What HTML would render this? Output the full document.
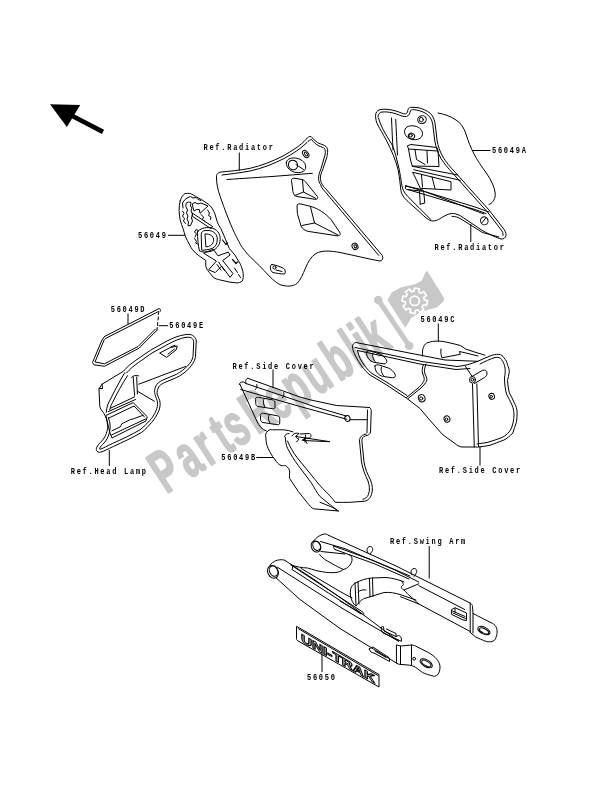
<!DOCTYPE html>
<html><head><meta charset="utf-8">
<style>
html,body{margin:0;padding:0;background:#fff;}
body{width:600px;height:785px;overflow:hidden;position:relative;}
svg{position:absolute;left:0;top:0;will-change:transform;}
.t{font-family:"Liberation Mono",monospace;font-weight:bold;font-size:7.0px;letter-spacing:1.73px;fill:#000;}
.l{fill:none;stroke:#000;stroke-width:1;stroke-linejoin:round;stroke-linecap:round;}
.w{fill:#fff;stroke:#000;stroke-width:0.9;stroke-linejoin:round;}
.wm{fill:#c8c8c8;}
</style></head>
<body>
<svg width="600" height="785" viewBox="0 0 600 785">
<g>
<text transform="translate(168.3,492.9) rotate(-33) scale(1,1.71)" font-family="Liberation Sans" font-weight="bold" font-size="35.3" fill="#c8c8c8" stroke="#c8c8c8" stroke-width="1.1" stroke-linejoin="round"><tspan x="-2.4">P</tspan><tspan x="26.0">a</tspan><tspan x="48.7">r</tspan><tspan x="70.1">t</tspan><tspan x="82.8">s</tspan><tspan x="106.4">R</tspan><tspan x="131.6">e</tspan><tspan x="153.7">p</tspan><tspan x="177.8">u</tspan><tspan x="203.7">b</tspan><tspan x="227.5">l</tspan><tspan x="238.5">i</tspan><tspan x="248.5">k</tspan></text>
<line x1="378.3" y1="300" x2="409.2" y2="345.8" stroke="#c8c8c8" stroke-width="5" stroke-linecap="round"/>
<circle cx="378.3" cy="300" r="4.3" fill="#c8c8c8"/>
<circle cx="409.2" cy="345.8" r="4.3" fill="#c8c8c8"/>
<path d="M387.5,300 L391.7,292.5 L400.8,287.5 L415,284.2 L421.7,280.8 L425.8,271.7 L427.5,271.3 L444.2,298.3 L443.3,301.7 L436.7,307.5 L427.5,310 L416.7,314.2 L410.8,318.3 L406.7,325.8 L405,327.5 Z" fill="#c8c8c8"/>
<path d="M424.3,300.0 L427.5,300.6 L426.6,305.4 L423.4,304.9 L422.1,307.0 L423.9,309.7 L419.9,312.5 L418.0,309.8 L415.5,310.4 L414.9,313.6 L410.1,312.7 L410.6,309.5 L408.5,308.2 L405.8,310.0 L403.0,306.0 L405.7,304.1 L405.1,301.6 L401.9,301.0 L402.8,296.2 L406.0,296.7 L407.3,294.6 L405.5,291.9 L409.5,289.1 L411.4,291.8 L413.9,291.2 L414.5,288.0 L419.3,288.9 L418.8,292.1 L420.9,293.4 L423.6,291.6 L426.4,295.6 L423.7,297.5Z" fill="none" stroke="#fff" stroke-width="1.7" stroke-linejoin="round"/>
<circle cx="414.7" cy="300.8" r="4.7" fill="none" stroke="#fff" stroke-width="1.7"/>
</g>
<polygon points="50,104.2 80.2,104.9 66.9,126.9" fill="#000"/>
<line x1="70" y1="114.8" x2="103" y2="131.9" stroke="#000" stroke-width="4.6"/>

<g class="l">
<!-- outer outline -->
<path d="M216.5,177 C216,174.5 218,172.5 221,172 C230,171.2 239,170.5 250,168.3 C262,165.5 272,161.5 283,156 C292,151 301,145 306,139.5 C308,137 309.5,136 311,136.5 C313,138.5 315,141 317.7,142.7 C320,144 322.5,144.5 324.3,145.3 C326.5,146.5 327.8,148.5 327.7,151 C327.5,153.5 327.2,155 327,156.7 L323,168.7 C321.5,172.5 320.3,175.5 320.3,178 C320.5,180.5 321,182 321.7,183.3 C322.5,185.5 324,187 325.7,188.7 L382.3,255.5 C383.5,258 382.5,261 380,261 C368,259 355,255.5 340,252.5 C331,250.8 322,250 316,253.5 C311,256.5 308,262 305.5,268 C303,274 300.5,280 297,283.5 C293,286.5 287,286.8 281,285 C275,282.5 270,277 264,270.5 C257.5,263.5 251.5,258.5 247.5,254 C243.5,249.5 240.5,245 238.8,241.4 C236.8,237.5 235.5,235 234.3,232.5 C231.5,226.5 229.5,221.5 227.3,216 C225,210 222.5,203.5 220.3,196.8 C218,190 216.3,184 216.5,177 Z"/>
<!-- inner double line along right edge -->
<path d="M311.5,139.5 C313.5,142 316,144.5 319,146 C321.5,147 323.5,147.5 324.5,148.5 C325.5,150 325.5,152 325,155 L321,168.7 C319.5,172.5 318.5,175.5 318.5,178.3 C318.7,181 319.5,183 320.5,184.5 C321,186.5 322,188 323.3,189.5 L378.8,255.5"/>
<!-- inner top parallel line -->
<path d="M222,175 C230,174 239,173 250,171 C262,168.3 272,164.5 283.5,158.8 C292.5,154 301,148.5 307,142.5 C308.5,141 309.5,140 310.5,139.8"/>
<!-- horizontal line -->
<path d="M227,179.5 C245,178.3 260,177.3 272,176.5 C285,175.5 300,174.3 312.3,173.3"/>
<!-- small hole -->
<ellipse cx="305.7" cy="154" rx="2.6" ry="4.1" transform="rotate(-35 305.7 154)"/>
<ellipse cx="305.9" cy="154.2" rx="1.1" ry="2.3" transform="rotate(-35 305.7 154)"/>
<!-- large oval with circle -->
<path d="M286.3,163 C286.3,159.5 290,157.6 295,158 C300.5,158.5 305.7,162 305.7,167 C305.7,171 302,172.9 297,172.6 C291,172.2 286.3,168 286.3,163 Z"/>
<ellipse cx="293" cy="165" rx="4.5" ry="4.9" transform="rotate(-25 293 165)"/>
<path d="M296,164.5 L303.5,169.5"/>
<!-- vent 1 -->
<path d="M291.5,180 C291.5,178.5 293,178 295,178.3 L302,179.5 C304,180 305,181 306.5,183 L317,196 C318.5,198 317.5,199.5 315,199.3 L297,196.5 C294.5,196 293.5,194.5 293,192 Z"/>
<path d="M302.5,180 L303.5,192 L295,195.5"/>
<path d="M303.5,192 L316,198.5"/>
<!-- vent 2 -->
<path d="M297,205.5 C297,204 298.5,203.5 301,204 L311,206.5 C318,208.5 325,213 331,219.5 L339.5,232 C341,234.5 340,236 337,235.8 L309,231.5 C305,230.8 302.5,229 301,226 L297.5,214 Z"/>
<path d="M310.5,207 L314.5,223 L302,225.5"/>
<path d="M314.5,223 L338,235"/>
<!-- bottom hole -->
<ellipse cx="355" cy="246.3" rx="2.8" ry="3.3" transform="rotate(-30 355 246.3)"/>
<ellipse cx="355.3" cy="246.5" rx="1.2" ry="1.6" transform="rotate(-30 355 246.3)"/>
<!-- slot -->
<path d="M272,264.5 C276,265.2 280,266.5 283.5,268.3 C285.5,269.5 285.8,272.5 284.5,274 C281,274 276,273.2 273,272.5 C270.5,271.5 270,268 270.5,266 C270.8,265 271.3,264.5 272,264.5 Z"/>
<circle cx="274.5" cy="267.5" r="1.6"/>
<path d="M276,270 L282,271.5"/>
</g>

<g class="l">
<!-- outer outline -->
<path d="M180.2,200.8 C181.5,197 183,195 184.6,193.8 C186.5,193.2 188.5,193.3 190.5,193.5 C192.5,194.5 194,195.5 195.6,196.4 L202.2,200.1 L208.8,204.5 C210.5,206 211.5,207.5 212.5,208.9 C213.5,210.5 214.2,212 214.7,213.3 L217.6,222.8 C218.5,225 219.5,226.5 220.8,228.5 C223,233 225,238 227.3,243.7 L229.2,248.3 L234.8,254.9 L240.4,264.2 C241.8,267.5 242.8,270.5 243.2,273.6 C243.5,276.5 243.2,279 242.3,281 C240.5,282.5 238.5,283 236.7,282.9 L229.2,282 L220.8,280.1 C217.5,279.5 215,278.5 213.3,277.3 C210.5,274 208,271 206.3,268 C205.5,265.5 205.7,263 205.9,260.5 C203,258.5 199,256 195.6,253 C193,250.5 191,248 190,245.5 C188,242 186.5,239 185.3,236 C184.5,233.5 183.8,231 183.1,228.7 C182,226 181,223 180.2,219.9 C179.5,216.5 179.2,213.5 179.1,210.3 C179.1,207 179.5,203.5 180.2,200.8 Z"/>
<!-- inner jagged line near top-left -->
<path d="M183,208 L182.5,203 L185,199.5 L188,197.5 L190.5,196.5 L193,198 L196,197.5 L198,199.5 L201,200.5"/>
<path d="M182.5,211 L184,213.5 L182.5,216 L184.5,218.5 L183.5,221 L185.5,223.5"/>
<!-- K stem -->
<path d="M186.5,203 L188.5,202 L191,202.5 L190.5,206 L192,208 L191,211 L192.5,214 L191.5,218 L192.5,221 L190.5,225.5 L188,225.8 L188.5,222 L187,219 L188,216 L186.5,213 L187.5,210 L186,207 Z"/>
<!-- K upper arm -->
<path d="M192.7,203.7 L195,202.5 L198,204 L201,203 L208,206 L200,213.3 L199.3,209.6 L196.5,209.5 L194,211 L193,207.5 Z"/>
<!-- K lower arm -->
<path d="M192.7,213.3 L212.5,226.5 L211,228.7 L192.7,216.5 Z"/>
<path d="M201,214.5 L203.5,217 L202.5,219.5 L205,221.5"/>
<!-- right side small marks -->
<path d="M207.5,210 L209.5,213 L208.5,215.5 L211,217 L210.5,219.5"/>
<path d="M222.5,240 L226,244.5 L227.5,243" stroke-width="1.2"/>
<path d="M232.5,259.5 L236,263.5 L237.5,262" stroke-width="1.2"/>
<path d="M234.5,268 L237.5,272.5 M238.5,274.5 L240.5,277.5"/>
<path d="M195,237 L196.5,234 L194.5,232 L196,229.5 L198.5,230.5"/>
<path d="M194.5,238.5 L196.5,241.5 L195.5,243 L197.5,244"/>
<!-- D -->
<path d="M197.5,232 C199.5,228.5 205,227 211,227.8 C217,229 220.3,233.5 220.2,239.5 C220,245.5 216,250 210,251.5 C206,252.3 202,252 199.5,251 C198,245 197.5,238 197.5,232 Z"/>
<path d="M201.2,234 C201.2,232 203,230.8 205,230.5 L209,230.5 C214,231 217.3,234.5 217.3,239 C217.3,244 215.3,247.3 212,248.5 C209,249.5 205,250.2 202.1,250.2 Z"/>
<path d="M205,234.3 L205.9,246.9 C209.5,246.8 212.5,245 213.5,241.5 C214.3,238 212,235 209,234.3 Z"/>
<!-- X -->
<path d="M204,253 L213.3,249.3 L218,255.8 L228.3,252.1 L230.1,255 L222.7,260.5 L233,273.6 L230.1,277.3 L221.7,266.1 L215.2,272.6 L208.7,269.8 L216.1,261.4 Z"/>
<path d="M218.5,262 L224.5,270.5 M217,264.5 L221,270"/>
</g>

<g class="l">
<!-- decal 56049A behind -->
<path d="M438,113 C444,114 450,116 456,120 C461,123 464,128 466,134 C468,141 471,148 474,154 C477,160 482,167 487,174 C491,180 494,186 495,192 C496,197 494,201 491,203.5 L489,204.5"/>
<!-- outer outline -->
<path d="M375.5,116 C375.5,112.5 377,110.5 380,109.6 C385,108.6 391,109.6 396,111 C400,112.3 403,114 405.5,114 C407.5,113.5 407.8,111 408,109.5 C408.5,108 410,107.3 412,107.3 L417,107.5 C422,108.3 427,110.5 430.5,113.5 C433.5,116.5 435,121 435.5,127 L437,140 C438,146 440,152 443,157 C446,162 450,167 455,172 L471,190 L489,210 L503,228 C505,230.5 506.3,233 506,235.5 C505.5,238 503.5,239.3 501,239 C497,238 490,234.5 483,231 L460.5,215.8 C457,214 454,213.3 451.3,213.5 C447,214 443,217 438.5,219.5 C436,220.8 433.5,221.2 431.2,220.8 C428.5,220 424,216.5 420.2,212.4 L410.8,204.2 C408,201.5 405.5,199.5 403.8,197.2 C402,194.5 401.2,192.5 400.9,190.2 C400.5,187 400.2,184 399.8,180.8 C399.3,177 398.8,173 398,169.2 C396.8,164.5 395,159.5 393.3,155.2 C391,150 388.8,145 386.3,140 C384.5,137 383,134.5 381.5,131.5 C379.5,128 377,124.5 376.2,121 Z"/>
<!-- inner offset line -->
<path d="M378,117 C378,114 379.5,112.5 382,112 C387,111.5 392,112.5 396.5,114 C400.5,115.5 403.5,117 406.5,116.5 C409.5,115.5 410,112.5 410.5,110.5 C411.5,109.5 413,109.5 416.5,110 C421,111 425.5,112.5 428.5,115.5 C431.5,118.5 432.8,122.5 433.2,128 L434.8,141 C436,147.5 438,153 441,158.5 C444,163.5 448,168 453,173.5 L469,191.5 L487,211.5 L500.5,229 C502.5,231.5 503.5,233.5 503,235.5"/>
<path d="M378.5,118 C380,123.5 382.5,128.5 385,133 C387.5,137.5 390,141 392.2,145 C393.8,148.5 394.8,152 395.7,155.2 L399.2,169.2 C400.2,174 400.8,179 401.5,183.2 C402,186 402.5,188.5 403.3,190.2 C404.5,192.5 405.8,194.5 407.3,196 L419,207.7 L430.7,219.4"/>
<!-- vertical inner lines -->
<path d="M395.7,119.5 C396.3,130 396.8,142 397.5,155"/>
<path d="M391.5,118 C392,130 392.5,140 393,150"/>
<!-- small hole -->
<ellipse cx="422" cy="119.6" rx="4.3" ry="3.9" transform="rotate(-20 422 119.6)"/>
<ellipse cx="421.3" cy="119.6" rx="2" ry="2.3"/>
<!-- oval -->
<path d="M404.5,131.5 C404.5,127.5 408,125.5 413,125.8 C418.5,126.3 422.5,129.5 422.5,133.5 C422.5,137.5 419,140 414,139.7 C408.5,139.3 404.5,136 404.5,131.5 Z"/>
<ellipse cx="411.5" cy="136" rx="3.2" ry="2.8" transform="rotate(30 411.5 136)"/>
<ellipse cx="410.8" cy="135.5" rx="1.6" ry="1.5"/>
<!-- vent 1 -->
<path d="M407.7,145.7 L411,144.5 L437,147.5 L438,150.5 L439,166.5 L412.3,166 L410.5,160 L408.5,149 Z"/>
<path d="M408.5,149 L437.5,151"/>
<path d="M415,149.7 L416.5,159.5 L425,164.5"/>
<path d="M427,151 L427.5,163"/>
<!-- diagonal double lines -->
<path d="M412.3,166.3 L457.7,175"/>
<path d="M413.7,169.7 L460.3,180.3"/>
<!-- vent 2 -->
<path d="M413,172.3 L451,181.7 L451,190 L420.3,188.3 L416.5,180 Z"/>
<path d="M421.5,175 L422.5,187"/>
<path d="M432,177 L435,188.5"/>
<!-- long diagonal lines -->
<path d="M405.7,185.7 L475,207 L489,212"/>
<path d="M408.3,189.7 L475,209.5 L486,213.5"/>
<path d="M426,192 L484,214"/>
<!-- tab -->
<path d="M405.5,186 C405,187.5 405.5,189 406.5,189.5 L423.7,191.3 L424.8,203 L420.2,204.2"/>
<path d="M405.5,186 L421.5,189.5 C423,190 423.7,190.5 423.7,191.3"/>
<path d="M419.5,191.5 L420.2,204.2"/>
<path d="M452,216.3 C455.5,216.3 458.5,217.5 461,219 L482.5,232.5 L499,237"/>
<!-- small hole bottom -->
<ellipse cx="484.3" cy="220.8" rx="3.7" ry="4.1" transform="rotate(-20 484.3 220.8)"/>
<path d="M482.3,222.5 L485.5,218.3"/>
</g>

<g class="l" stroke-width="0.8">
<!-- 56049D -->
<path d="M104.5,336.5 L159,308.6 C160.3,308.5 160.8,309.8 160.3,311.3"/>
<path d="M105.5,338.5 L158.5,311.5"/>
<path d="M104.5,336.5 L102,340 L92.5,362.5 L94,364.8 L104.5,366.3 L139,348.2 L157.2,330"/>
<path d="M104.3,339.5 L95,362 L104.5,363.8 L138,346.5 L155.5,329"/>
<!-- 56049E -->
<path d="M158.8,312 L158.3,314.5 M158.4,317 L158,320 M157.8,322.5 L157.5,325.5 M157.3,327.5 L157,330" stroke-width="1"/>
</g>

<g class="l">
<!-- outer silhouette -->
<path d="M99.2,388.4 L102,384.2 L123.2,371.4 C127,367 131,363.5 135.8,360.3 L150.5,350.2 L167,341 C173,338 179,335.5 185.3,334.6 C189,334.2 191.5,334.5 192.7,335.5 C195,337 196.3,339 196.3,341 L195.4,357.5 C194.5,361.5 192,365 189,368.5 C185,372.5 181,375.5 176.2,377.7 L164.3,382.7 C161.5,384 159.5,385.5 158.7,387 C157.5,389.5 156.8,392 157.2,394.1 C158,397 159.8,399.5 160.1,402.6 C160.3,405.5 159.8,408.5 158.7,411.1 C156.8,415.5 154.5,419 151.6,422.4 C148.5,426 145.5,429.5 141.7,432.3 C133,437.5 123,442 113.3,446.5 C108,449 103.5,451.5 100.6,452.2 C98.5,452.5 97,451.8 96.5,450.5 C96,449 96.5,447.5 97.5,446 C99,443.5 100.8,442 102,440.8 C104,438.5 105.5,436 106.2,433.7 C107,431 107.8,429 107.7,426.7 C107.5,423.5 107,420.5 106.2,418.2 C105.3,416 104.3,414 103.4,412.5 C101.5,410.5 100.3,408.5 99.9,406.8 Z"/>
<!-- inner frame line -->
<path d="M126.5,373 C130,369 134,365.5 138.5,362.5 L152,353 L168.5,344 C174,341 180,338.3 186,337.3 C189,337 191.5,337.5 192.5,338.8 C193.5,340 193.8,341.5 193.7,343 L193,356.5 C192.3,360 190.5,363 187.5,366 C184,369.5 180.5,372 176.5,374.3 L163,380 C159.5,381.5 157,383.5 155.8,386 C154.5,389 154.3,392 155,394.5 C155.8,397.5 157.3,400 157.5,402.8 C157.6,405.5 157.2,408 156.2,410.3 C154.5,414.5 152.3,417.8 149.5,420.8 C146.5,424.2 143.5,427.2 140,429.8 C131.5,434.8 121.8,439.3 112.2,443.6 C107.5,445.8 103.5,448 101,449 C99.8,449.3 99.3,449 99.5,448.5 C100.5,446.5 102.5,444.5 104,443 C106.3,440.5 108,437.5 108.8,434.5 C109.8,431 110.3,428.5 110.2,426 C110,423 109.3,420 108.3,417.5"/>
<!-- side face top -->
<path d="M102,384.2 L102.5,388.5 M99.2,388.4 L102.5,388.5"/>
<!-- frame pillar (left) -->
<path d="M124.7,372.8 C119,382 113,394 108,404 C107,407 106.3,410 106.2,412.5"/>
<path d="M127.5,375.7 C122,384 116.5,394.5 112.5,402.5 C111,405 110.2,407.5 109.8,409.7"/>
<!-- pillar 2 -->
<path d="M133.2,377 L134.6,395.5 M136.7,377 L137.4,394"/>
<path d="M131.5,377.5 C133,375.5 136,375 138.5,375.8"/>
<!-- window bottom double lines -->
<path d="M110.5,408.2 L134.6,396.9"/>
<path d="M108.5,411.5 L135.5,399.5"/>
<!-- window diagonal lines -->
<path d="M138.8,384.2 L185.5,366.5"/>
<path d="M137.4,391.2 L154.4,401.2"/>
<!-- small window top right -->
<path d="M160,353.3 L166.7,357.3 L176,350 L177.3,346 L170.5,347.5 Z"/>
<path d="M168,354 L174.5,349"/>
<path d="M171,346.8 L175,345.3"/>
<!-- lower box -->
<path d="M106.2,415.3 L133.2,402.6 L147.3,416.7 L145.9,421 L111.9,438 L109.8,432.3 Z"/>
<path d="M109,418 L134,406 L144.5,417"/>
<path d="M111.9,430.9 L120.4,426.7 L121.8,423.8 L130.3,419.6 L133.2,418.9 L143.1,415.3"/>
<path d="M111.5,435 L145.5,419"/>
</g>

<g class="l">
<!-- top rail -->
<path d="M247.7,378.3 L300,397 L310,399.8 L336.5,405.5 L369.5,407.5"/>
<path d="M246.2,383.6 L300,401.7 L314.8,406.8 L346.2,416"/>
<path d="M247.7,378.3 C245.5,379 245,382 246.2,383.6"/>
<path d="M239.3,384.5 C239.5,382.5 241.5,381.6 243.5,382 L246.2,383.6"/>
<path d="M240.8,389.5 L300,406.5 L347,419.3"/>
<path d="M256.8,384.5 C257.5,386.5 256.8,388.5 255.3,389.5"/>
<path d="M283.8,392.5 C284.5,394.5 283.8,396.5 282.3,398"/>
<!-- right edge -->
<path d="M369.5,407.5 C371,408.5 371.5,410 371.2,412 L370.5,432 C370,434.5 368,435.5 365.5,435.8 C362.5,436.5 361.5,439 362,442 L364,462 C365,469 368,475 370.5,480 C372.5,485 373,490 371.5,494.5 C370,499 367,501.3 363.5,501.3"/>
<path d="M367.5,410 L367,432.5 M366.3,434 C362,434.5 359.5,437 359.5,441 L361.5,462 C362.5,469 365.5,475.5 368,481 C369.5,485.5 370,490 368.5,494.5 C367,497.5 365,499 363,499.3"/>
<!-- left edge -->
<path d="M239.8,384 L243,391 L256.8,421 C259,426 262,429.5 266.4,431"/>
<!-- vents -->
<path d="M255.5,399 C255.5,397.5 257,397 258.5,397.3 L272.5,399.8 C274.5,400.3 275,401.5 275,403 L275,407 C275,408.5 274,409 272.5,408.7 L258,406.5 C256.5,406.2 255.8,405 255.8,403.5 Z"/>
<path d="M264,398.8 C263,401 263,404 265,407.3"/>
<path d="M260.4,415 C260.4,413.5 261.8,413 263.5,413.3 L277.5,415.8 C279.3,416.3 279.8,417.5 279.8,419 L279.7,423 C279.7,424.5 278.8,425 277.2,424.7 L263,422.5 C261.5,422.2 260.6,421 260.6,419.5 Z"/>
<path d="M269,415 C268,417 268,420 270,423.3"/>
<!-- hole -->
<ellipse cx="347.4" cy="418.5" rx="2.6" ry="3" transform="rotate(-20 347.4 418.5)"/>
<path d="M350,419.7 L367.5,419.7"/>
<!-- decal 56049B -->
<path d="M268,430.8 C269,429.5 271,429.5 272.3,429.8 L283.2,429.8 C287,430 290,431 292.9,431.9"/>
<path d="M268,430.8 C265.5,433 265.3,435 265.8,437.3 C266,441 266.5,445 268,448.2 C270,452.5 272,456 274.5,459 C276.5,462 278.5,464.5 281,465.5 C283,466 284.3,465.5 285.3,465.5 C288,467 289.7,469.5 289.7,472 C289.5,474.5 289.2,476.5 289.7,478.5 L298.3,491.5 L307,502.3 C309.5,505.5 311.5,508 313.5,508.8 L338.4,511 C335,509 333,507.5 330.8,506.7 C327,505 323,503.5 320,502.3"/>
<path d="M285.3,437.3 C285.5,441 286,445 287.5,448.2 C291,455 294.5,460.5 298.3,465.5 L311.3,482.8 C314.5,488 317,493 320,496.5 C325,500.5 330,505 338.4,511"/>
<path d="M287.5,441 C290,447 293,452 297,457.5 L315,479.5 C320,486 325,491 330,495.8 C332,498.5 334,500.5 335.2,502.3 C340,502.5 345,502.3 350.3,502.3 L363.3,501.3"/>
<path d="M284.5,436.5 C285,434.5 287,433.3 289,433.5"/>
<!-- SR logo -->
<path d="M292,436 C293,433.5 296,432.5 299,433.5 L296,436 C295.5,437.5 297,438.5 299,439 L296.5,442"/>
<path d="M300,434 L309.5,433.5 C311.5,434 311.5,437 309.5,438 L304,438.5 L307,443.5"/>
<path d="M305.5,435 L305,442 M302,440 C303.5,439 305,439.5 306,441"/>
<path d="M296,436.5 L329.8,441.7 L303,440.5"/>
</g>

<g class="l">
<!-- decal 56049C -->
<path d="M422.6,356 C422.3,352 422.5,349 423.5,347.2 C424.5,344.5 426,343 428,342.6 C431,341.5 434,341.2 437.5,341.1 C442,341 446,342 449.8,342.9 C453.5,343.8 457,344.5 460.3,345.5 C462.5,346.5 464,348 465.5,349 L476,352.5 L484.8,355.1"/>
<path d="M441,349 C440.5,352 441,355 441.9,357.8 L460.3,354.3 L459.5,351.5 L466,353 L478,356"/>
<path d="M426,364 C424.5,368 424,371 425,374 C426.5,377 427.5,379 426.5,381.5 C425,384 423,386 421,388 L408.3,398.3"/>
<path d="M423.5,364.5 C422,368 421.8,371 422.8,374 C424,377 424.8,379 423.8,381.3 C422.5,383.5 420.8,385.5 419,387.3 L406.5,397.5"/>
<!-- top edge band -->
<path d="M352.5,346.7 C352.5,344.5 353.5,343 355.8,342.5 L445,360 L477.8,361.3 C482,359.5 486,357.5 490,356 C493,354.8 496,354.3 498.8,354.3 C501,354.5 503,356 504,357.8 C506,360 507,362 507.5,364.8 C508.5,367 509.2,369 509.3,371.8 C509,375 508,378 507.5,380.5 C507.7,385 508.5,389 509.3,392.8 C511,396 513,399.5 514.5,403.3 C516,406 517,409 517.1,412 C517.2,416 516.8,419.5 516.3,422.5 C515,426 514,429.5 512.8,433 C510,436 507,438.5 504,440 C499,442 494.5,443.5 490,445.3 C485,446.2 481,446.8 477.8,447 L462,447 C459,446.5 457,445.3 455,443.5 L442.8,434.8 L428.8,419 L420,408.5 L406.7,398.3 L386.7,385 L370,375 C367,372.5 365,370.5 363.3,368.3 C360,364 357,359 355,355 C353.5,352 352.5,349 352.5,346.7 Z"/>
<path d="M355,347.5 L422,361.5 L456.8,366.5"/>
<path d="M357.5,350.5 L420,364 L456,369.5 L470,368.5"/>
<path d="M357.5,350.5 C358.5,356 361,361 364.5,365.5 C367,369 369.5,371.5 372,373.5 L388,383 L407,395.5"/>
<path d="M456.8,366.5 C464,366 471,364 477.8,361.3"/>
<!-- inner right double line -->
<path d="M480,364 C485,361.5 490,359 495,357.5 C498,357 500.5,357.5 501.5,359.5 C503.5,362 504.5,365 505,368 C505.5,371 505,374.5 504.5,378 C504.5,385 505.5,390 506.5,394 C508.5,398 510.5,401.5 512,405 C513.5,408.5 514,412 514,415 C513.8,420 513,424 511.5,428 C509.5,432.5 506,435.5 502,437.5 C497,439.5 492,441 487,442.5 L477,444"/>
<!-- vertical lines -->
<path d="M472.5,384 L474.3,447"/>
<path d="M476.9,384 L478.5,446.5"/>
<path d="M465.5,366.5 L472.5,377"/>
<!-- tube -->
<path d="M472,376.5 L482.5,370.3 C485,369.5 487,370.5 487,373 C487,375 486,376.5 484.5,377.5 L474.5,383.5"/>
<ellipse cx="472.5" cy="379.8" rx="3" ry="3.3"/>
<circle cx="472.5" cy="379.8" r="1.4"/>
<!-- holes -->
<ellipse cx="421.7" cy="398.3" rx="3.3" ry="3.7" transform="rotate(-20 421.7 398.3)"/>
<circle cx="421.2" cy="398.5" r="1.6"/>
<ellipse cx="447" cy="419" rx="2.9" ry="3.2" transform="rotate(-20 447 419)"/>
<circle cx="446.5" cy="419.3" r="1.3"/>
<ellipse cx="491.7" cy="396.3" rx="2.8" ry="3" transform="rotate(-20 491.7 396.3)"/>
<circle cx="491.3" cy="396.5" r="1.2"/>
<!-- vents -->
<path d="M366.5,352 C367,350.5 369,350.5 371,351.2 L380,354 C383,355.5 385,357.5 386.5,360 C387.5,362 386.5,364 384,363.8 L375,362.5 C372,362 370,360.5 368.5,358.5 C367,356.5 366.3,354 366.5,352 Z"/>
<path d="M373,353 C372,356 373,359.5 375.5,362"/>
<path d="M375,366 C375.5,364.5 377.5,364.5 379.5,365.2 L388.5,368 C391.5,369.5 393.5,371.5 395,374 C396,376 395,378 392.5,377.8 L383.5,376.5 C380.5,376 378.5,374.5 377,372.5 C375.5,370.5 374.8,368 375,366 Z"/>
<path d="M381.5,367 C380.5,370 381.5,373.5 384,376"/>
</g>

<g class="l">
<!-- FAR ARM -->
<ellipse cx="316" cy="546.5" rx="4.6" ry="5.8" transform="rotate(-25 316 546.5)"/>
<ellipse cx="316.8" cy="546.2" rx="3.6" ry="4.7" transform="rotate(-25 316 546.5)"/>
<path d="M313.5,541 C316,537.5 320,535 324,534 C326,533.8 327.5,534.3 328.5,535.3"/>
<path d="M328.5,535.3 L395,565.5 L470.2,603.1"/>
<path d="M320.5,541.5 L345,548.7 L395,570 L418.8,582"/>
<path d="M333.5,546 L372,560 L410,576 M335,549.5 L375,564 L409,579"/>
<path d="M334,545.5 C333,546.5 333.5,548.5 335,549.5"/>
<path d="M321,551.5 L345,554"/>
<!-- cross brace curve 1 -->
<path d="M319.5,554.5 C322,558 327,561 331,563 C336,566 340,568 343.5,569.5 C347.5,568.5 351,565 352,560.5 C352.5,557 351,555.5 349.5,555"/>
<path d="M291,565 C297,567 302,567.8 307.5,568 C313,569.5 318,571.3 322.5,571.8 C328,572.8 332,572.8 336,572.5 C340,571.8 342,570.8 343.5,569.5"/>
<!-- hooks -->
<path d="M368,553 C366,550 367,547 370,546.5 C372.5,546.5 373.5,549 372,551.5 L370,554"/>
<path d="M412,575 C410,572 411,569 414,568.5 C416.5,568.5 417.5,571 416,573.5 L414,576.5"/>
<!-- cross brace U -->
<path d="M350.3,594 C350,588 352,584.5 355.7,583 C361,580 366,578.5 371.7,578 L386,577.5 C392,578 397,579.5 401,580.7 L404,582"/>
<path d="M350.3,594 C351,600 353,604 356,606 C360,601 363,598.5 366,598 L384,592.5 C390,592 395,593 400,594.5 L416,600"/>
<path d="M355,582.5 L356,605 M358,581.5 L359,604"/>
<path d="M369.5,578.5 L370,597 M372.5,578 L373,596.5"/>
<path d="M358,592 C360,590 363,589.5 366,590"/>
<path d="M401,580.7 C403,583 404.5,585 402.3,585.7 C400.5,587 401.5,589 404,590 L418.8,583.8"/>
<path d="M404,590 C406,592 408,594.5 410,596 L418.8,604"/>
<!-- far arm rear -->
<path d="M418.8,585.7 L464.7,609.5"/>
<path d="M400.5,596.7 L418.8,604 L470.2,631.5"/>
<path d="M470.2,603.1 L470.2,632.4"/>
<path d="M470.2,603.1 C471.5,604 472.5,605 472.5,606.5 L473,613.5 C476,615 479,616.5 483,618.7 L492.2,623.2 C494.5,624.5 496,626 496.7,628.5 C497.3,631 497.3,633.5 496.7,635.2 C496,638 495,640 494,640.7 C491.5,642 489,642 486.7,641.6 C482,640 479,638.5 475.7,637 L470.2,632.4"/>
<path d="M473,613.5 L473,633"/>
<ellipse cx="483.9" cy="630.6" rx="6.6" ry="3.4" transform="rotate(27 483.9 630.6)"/>
<ellipse cx="484.2" cy="630.8" rx="5" ry="2.2" transform="rotate(27 483.9 630.6)"/>
<!-- vent box far -->
<path d="M451.8,609.5 L455,607.7 L466.5,613 L466.5,620.5 L463,620 L451.8,614.5 Z"/>
<path d="M452.5,611 L465,616.5 M453,613 L465.5,618.5 M455,608.5 L455,612"/>
<!-- NEAR ARM -->
<ellipse cx="273" cy="571.8" rx="5.2" ry="6.6" transform="rotate(-25 273 571.8)"/>
<ellipse cx="273.8" cy="571.4" rx="4" ry="5.3" transform="rotate(-25 273 571.8)"/>
<path d="M270,565 C273,561.5 276.5,560 279.8,559.8 C282,559.5 284,559.8 285,560.5"/>
<path d="M285,560.5 L315,580 L345,601 L398.7,641.3"/>
<path d="M277.5,567.3 L345,610 L362,620"/>
<path d="M291,565 L340,597.3 L362,611.5 C363.5,612.5 364,614 363.8,614.5"/>
<path d="M293,566 L292,569.5 L361,614"/>
<path d="M340,601 L362,613.8"/>
<path d="M276,577.8 L300,599.5 L340,628.5 L396.8,663.3"/>
<path d="M362,620 L398.7,641.3"/>
<path d="M301,568.4 L340,591.5 L352,598"/>
<!-- near end plate -->
<path d="M396.8,645 L400.5,646 L411.5,645 C413.5,645 415.5,645.8 417,646.8 L428,652.3 C432,654.5 435,657 437.2,659.7 C439,662 440,664.5 440,667 C440,670 439.3,672.5 438,674.3 C436.5,675.8 435,676.3 433.5,676.2 C429,675 425.5,674 422.5,672.5 L415.2,667 C413,666 411.5,665.5 409.7,665.2 L398.7,664.2 L396.8,663.3 Z"/>
<path d="M400.5,646 L400.5,664.5"/>
<ellipse cx="426.2" cy="663.3" rx="6.8" ry="3.4" transform="rotate(30 426.2 663.3)"/>
<ellipse cx="426.4" cy="663.4" rx="5.2" ry="2.2" transform="rotate(30 426.2 663.3)"/>
<circle cx="414.2" cy="658.7" r="1.4"/>
<path d="M411.5,645 L411.5,665"/>
<!-- box on near arm -->
<path d="M381.2,628 C381,626.5 382,626.3 383.5,626.8 L384,631 L396,636.5 L398.5,635.5 C400.5,636 401.4,637.5 401.4,639 L401.4,641.3 L383,633 C381.7,632 381.2,630 381.2,628 Z"/>
<path d="M386.5,629 L396,633.5 L396,636.5"/>
<!-- small bracket below -->
<path d="M369.3,648.7 L373,647 L389.5,658 L389.5,661.5 L376,654 L371,652 Z"/>
<path d="M375,651 L386,657.5"/>
</g>

<g class="l">
<path d="M296.9,626.5 L379,674.5 L379,687 L297.8,640.8 C296.8,640.3 296.5,639.5 296.5,638.8 Z"/>
<path d="M298.5,628.8 L378,675.5"/>
<text transform="translate(301,641.3) skewY(29.5)" font-family="Liberation Sans" font-weight="bold" font-size="11" textLength="74" lengthAdjust="spacingAndGlyphs" fill="none" stroke="#000" stroke-width="1">UNI-TRAK</text>
</g>

<g stroke="#000" stroke-width="1" fill="none">
<path d="M239.3,152.5 V170.5"/>
<path d="M168,235.3 H185"/>
<path d="M472.5,150.5 H490.5"/>
<path d="M470.8,224 V242"/>
<path d="M128,313.5 V324.3"/>
<path d="M158.7,325.7 H168"/>
<path d="M109.3,450 V466"/>
<path d="M273,369.5 V388"/>
<path d="M256.3,457.5 H273.7"/>
<path d="M438.3,323.5 V341.7"/>
<path d="M480,446 V465.5"/>
<path d="M429.2,546 V578.5"/>
<path d="M322,654 V672"/>
</g>

<text class="t" transform="translate(203.5,150) scale(1,1.3)">Ref.Radiator</text>
<text class="t" transform="translate(138,238) scale(1,1.3)">56049</text>
<text class="t" transform="translate(492,152.9) scale(1,1.3)">56049A</text>
<text class="t" transform="translate(434.5,249.5) scale(1,1.3)">Ref.Radiator</text>
<text class="t" transform="translate(110.7,312.3) scale(1,1.3)">56049D</text>
<text class="t" transform="translate(169.3,328.3) scale(1,1.3)">56049E</text>
<text class="t" transform="translate(70.7,474) scale(1,1.3)">Ref.Head Lamp</text>
<text class="t" transform="translate(232.5,368.5) scale(1,1.3)">Ref.Side Cover</text>
<text class="t" transform="translate(221.3,460) scale(1,1.3)">56049B</text>
<text class="t" transform="translate(420.5,321.7) scale(1,1.3)">56049C</text>
<text class="t" transform="translate(439,473) scale(1,1.3)">Ref.Side Cover</text>
<text class="t" transform="translate(390,543.6) scale(1,1.3)">Ref.Swing Arm</text>
<text class="t" transform="translate(307,680) scale(1,1.3)">56050</text>
</svg>
</body></html>
